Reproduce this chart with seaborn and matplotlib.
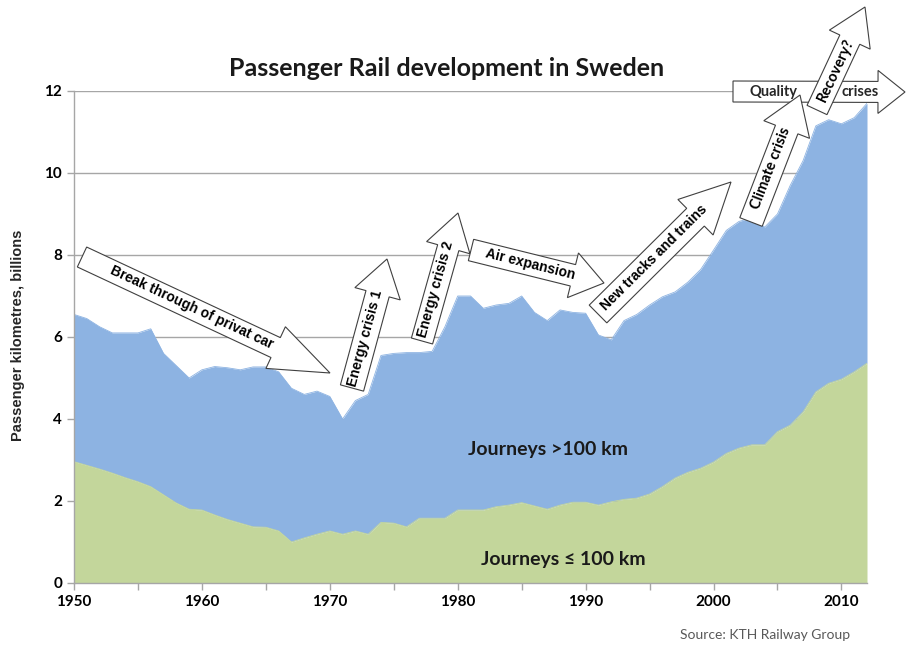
import math
import matplotlib
matplotlib.use("Agg")
import matplotlib.pyplot as plt
from matplotlib.patches import Polygon
from matplotlib.ticker import MultipleLocator
import seaborn as sns

# ---------------- data ----------------
years = list(range(1950, 2013))
total_pkm = [6.55, 6.45, 6.25, 6.10, 6.10, 6.10, 6.20, 5.60, 5.30, 5.00,
             5.20, 5.28, 5.25, 5.20, 5.27, 5.27, 5.15, 4.75, 4.60, 4.68,
             4.55, 4.00, 4.45, 4.60, 5.55, 5.60, 5.62, 5.62, 5.65, 6.25,
             7.00, 7.00, 6.70, 6.78, 6.82, 7.00, 6.60, 6.40, 6.66, 6.60,
             6.58, 6.05, 5.93, 6.40, 6.55, 6.78, 6.98, 7.10, 7.34, 7.65,
             8.12, 8.60, 8.82, 8.90, 8.68, 9.00, 9.70, 10.30, 11.15, 11.30,
             11.20, 11.35, 11.70]
short_pkm = [2.96, 2.87, 2.78, 2.68, 2.57, 2.47, 2.35, 2.15, 1.95, 1.80,
             1.78, 1.66, 1.55, 1.46, 1.37, 1.36, 1.27, 1.00, 1.10, 1.19,
             1.27, 1.19, 1.27, 1.19, 1.48, 1.46, 1.37, 1.58, 1.58, 1.58,
             1.78, 1.78, 1.78, 1.86, 1.90, 1.96, 1.88, 1.80, 1.90, 1.97,
             1.97, 1.90, 1.98, 2.04, 2.07, 2.17, 2.35, 2.56, 2.70, 2.80,
             2.95, 3.16, 3.29, 3.37, 3.37, 3.69, 3.85, 4.17, 4.66, 4.87,
             4.97, 5.15, 5.36]
x_ticks = [1950, 1960, 1970, 1980, 1990, 2000, 2010]
y_ticks = [0, 2, 4, 6, 8, 10, 12]

title = "Passenger Rail development in Sweden"
y_label = "Passenger kilometres, billions"
label_long = "Journeys >100 km"
label_short = "Journeys \u2264 100 km"
source = "Source: KTH Railway Group"

arrow_labels = ["Break through of privat car", "Energy crisis 1", "Energy crisis 2",
                "Air expansion", "New tracks and trains", "Climate crisis",
                "Recovery?"]

# ---------------- style ----------------
sns.set_theme(style="white")
plt.rcParams['font.family'] = ['Lato', 'DejaVu Sans']

W, H = 906, 646
fig = plt.figure(figsize=(W / 100, H / 100), dpi=100)
ax = fig.add_axes([74 / W, 1 - 583 / H, (867 - 74) / W, (583 - 91) / H])

BLUE = "#8DB3E2"
GREEN = "#C3D69B"

ax.fill_between(years, short_pkm, total_pkm, color=BLUE, lw=0, zorder=2)
ax.fill_between(years, 0, short_pkm, color=GREEN, lw=0, zorder=3)
sns.lineplot(x=years, y=total_pkm, ax=ax, color=BLUE, lw=0.6, zorder=2.5)
sns.lineplot(x=years, y=short_pkm, ax=ax, color=GREEN, lw=0.6, zorder=3.5)

ax.set_xlim(1950, 2012)
ax.set_ylim(0, 12)
ax.set_xticks(x_ticks)
ax.xaxis.set_minor_locator(MultipleLocator(5))
ax.set_yticks(y_ticks)
ax.yaxis.grid(True, color="#A6A6A6", lw=1.0, zorder=1)
ax.set_axisbelow(True)
for s in ["top", "right"]:
    ax.spines[s].set_visible(False)
for s in ["left", "bottom"]:
    ax.spines[s].set_color("#A6A6A6")
    ax.spines[s].set_linewidth(1.0)
    ax.spines[s].set_zorder(4)
ax.tick_params(axis="both", which="both", direction="out", color="#A6A6A6",
               length=5, width=1, bottom=True, left=True)
ax.tick_params(axis="x", which="major", pad=4)
for lab in ax.get_xticklabels() + ax.get_yticklabels():
    lab.set_fontweight("bold")
    lab.set_fontsize(11)
    lab.set_color("black")
ax.set_xlabel("")
ax.set_ylabel("")

fig.text(18 / W, 1 - 335 / H, y_label, rotation=90, ha="center", va="center",
         fontsize=10.5, fontweight="bold", family=["Liberation Sans", "DejaVu Sans"])
fig.text(447 / W, 1 - 68 / H, title, ha="center", va="center",
         fontsize=18, fontweight="bold", color="#1a1a1a")
fig.text(548 / W, 1 - 450 / H, label_long, ha="center", va="center",
         fontsize=14, fontweight="bold", color="#1a1a1a")
fig.text(563 / W, 1 - 560 / H, label_short, ha="center", va="center",
         fontsize=14, fontweight="bold", color="#1a1a1a")
fig.text(765 / W, 1 - 635 / H, source, ha="center", va="center",
         fontsize=10, color="#595959")


# ---------------- block arrows (figure pixel coords, y down) ----------------
def to_fig(p):
    return (p[0] / W, 1 - p[1] / H)


def block_arrow(tail, tip, w, h, L, z):
    dx, dy = tip[0] - tail[0], tip[1] - tail[1]
    d = math.hypot(dx, dy)
    ux, uy = dx / d, dy / d
    nx, ny = -uy, ux
    bx, by = tip[0] - L * ux, tip[1] - L * uy
    pts = [(tail[0] + w * nx, tail[1] + w * ny),
           (bx + w * nx, by + w * ny),
           (bx + h * nx, by + h * ny),
           tip,
           (bx - h * nx, by - h * ny),
           (bx - w * nx, by - w * ny),
           (tail[0] - w * nx, tail[1] - w * ny)]
    poly = Polygon([to_fig(p) for p in pts], closed=True, transform=fig.transFigure,
                   facecolor="white", edgecolor="#404040", lw=0.8, zorder=z)
    fig.add_artist(poly)
    return math.degrees(math.atan2(-dy, dx))


def arrow_text(pos, s, rot, z, fam, size):
    fig.text(pos[0] / W, 1 - pos[1] / H, s, rotation=rot, rotation_mode="anchor",
             ha="center", va="center", fontsize=size, fontweight="bold",
             family=fam, color="black", zorder=z)


ARIAL = ["Liberation Sans", "DejaVu Sans"]
CAL = ["Lato", "DejaVu Sans"]

specs = [
    # tail, tip, half shaft, half head, head len, text pos, label idx, font
    ((82, 257), (330, 373), 11, 23, 60, (192, 307), 0, ARIAL, 10),
    ((352, 388), (387, 259), 12, 23.5, 36, (365, 338), 1, ARIAL, 10),
    ((422, 341), (458, 213), 11, 22.5, 36, (436, 289), 2, ARIAL, 10),
    ((471, 250), (604, 283), 11, 23, 32, (530, 264), 3, ARIAL, 10),
    ((598, 314), (731, 182), 12.5, 25, 50, (654, 258), 4, ARIAL, 10),
]
z = 10
for tail, tip, w, h, L, tpos, idx, fam, size in specs:
    rot = block_arrow(tail, tip, w, h, L, z)
    arrow_text(tpos, arrow_labels[idx], rot, z + 0.5, fam, size)
    z += 1

# Quality crises (horizontal)
block_arrow((733, 91.5), (905, 92), 10.5, 21.5, 27, z)
fig.text(774 / W, 1 - 92 / H, "Quality", ha="center", va="center", fontsize=10.5,
         fontweight="bold", family=CAL, zorder=z + 0.5)
fig.text(860 / W, 1 - 92 / H, "crises", ha="center", va="center", fontsize=10.5,
         fontweight="bold", family=CAL, zorder=z + 0.5)
z += 1
# Climate crisis
rot = block_arrow((751, 222), (800, 95), 12, 24.5, 37, z)
arrow_text((771, 168), arrow_labels[5], rot, z + 0.5, CAL, 10.5)
z += 1
# Recovery?
rot = block_arrow((817, 110), (865, 7), 11, 22.5, 36, z)
arrow_text((836, 70), arrow_labels[6], rot, z + 0.5, CAL, 10.5)

fig.savefig("out.png", dpi=100, facecolor="white")
